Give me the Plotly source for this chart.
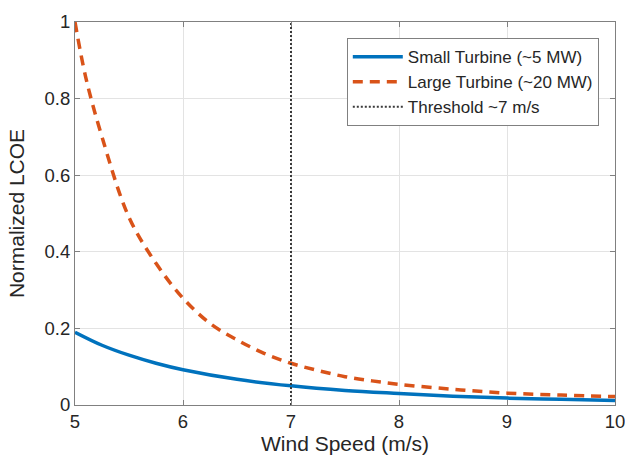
import plotly.graph_objects as go

# Wind speed sample points (m/s)
wind_large = [5.0, 5.1, 5.25, 5.5, 5.75, 6.0, 6.25, 6.5, 6.75, 7.0, 7.25, 7.5, 7.75, 8.0, 8.5, 9.0, 9.5, 10.0]
lcoe_large = [1.0, 0.855, 0.70, 0.49, 0.37, 0.279, 0.213, 0.170, 0.135, 0.109, 0.090, 0.074, 0.063, 0.054, 0.041, 0.031, 0.026, 0.022]

wind_small = [5.0, 5.25, 5.5, 5.75, 6.0, 6.5, 7.0, 7.5, 8.0, 8.5, 9.0, 9.5, 10.0]
lcoe_small = [0.190, 0.156, 0.130, 0.109, 0.092, 0.067, 0.050, 0.038, 0.030, 0.023, 0.018, 0.015, 0.012]

threshold_x = [7, 7]
threshold_y = [0, 1]

x_ticks = [5, 6, 7, 8, 9, 10]
y_ticks = [0, 0.2, 0.4, 0.6, 0.8, 1]
y_tick_labels = ["0", "0.2", "0.4", "0.6", "0.8", "1"]

FONT = "Liberation Sans, Arial"
TXT = "#262626"

fig = go.Figure()
fig.add_trace(go.Scatter(x=wind_small, y=lcoe_small, mode="lines", name="Small Turbine (~5 MW)",
                         line=dict(color="#0072BD", width=3.5, shape="spline")))
fig.add_trace(go.Scatter(x=wind_large, y=lcoe_large, mode="lines", name="Large Turbine (~20 MW)",
                         line=dict(color="#D95319", width=3.5, dash="10px,7px", shape="spline")))
fig.add_trace(go.Scatter(x=threshold_x, y=threshold_y, mode="lines", name="Threshold ~7 m/s",
                         line=dict(color="#3a3a3a", width=2, dash="2px,2px")))

axis_common = dict(showline=True, linecolor="#808080", linewidth=1, mirror="ticks",
                   ticks="inside", ticklen=5, tickcolor="#808080",
                   showgrid=True, gridcolor="#e3e3e3", gridwidth=1, zeroline=False,
                   ticklabeloverflow="allow",
                   tickfont=dict(family=FONT, size=18.5, color=TXT))

fig.update_layout(
    width=625, height=458,
    margin=dict(l=75, r=10, t=22, b=53),
    plot_bgcolor="white", paper_bgcolor="white",
    font=dict(family=FONT, color=TXT),
    xaxis=dict(range=[5, 10], tickvals=x_ticks,
               title=dict(text="Wind Speed (m/s)", font=dict(size=21, color=TXT), standoff=4),
               automargin=False, **axis_common),
    yaxis=dict(range=[0, 1], tickvals=y_ticks, ticktext=y_tick_labels,
               title=dict(text="Normalized LCOE", font=dict(size=21, color=TXT), standoff=14),
               automargin=False, **axis_common),
    legend=dict(x=0.97, y=0.958, xanchor="right", yanchor="top",
                bgcolor="white", bordercolor="#808080", borderwidth=1,
                font=dict(family=FONT, size=17, color=TXT),
                tracegroupgap=0, itemwidth=50),
    showlegend=True,
)

fig.write_html("out.html", config={"displayModeBar": False},
               post_script="document.body.style.margin='0';document.body.style.overflow='hidden';")
